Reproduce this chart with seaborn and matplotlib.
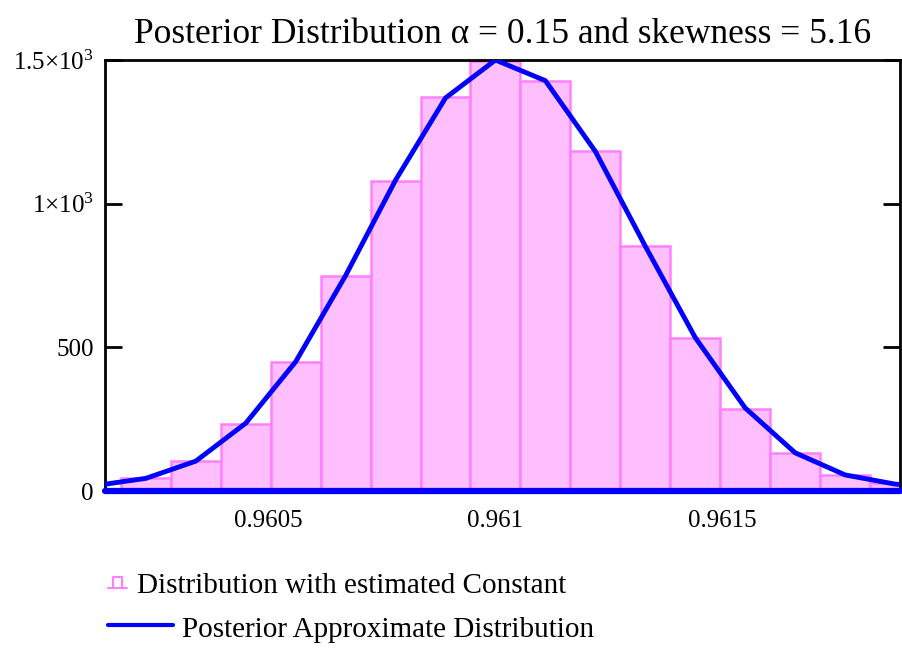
import matplotlib
matplotlib.use("Agg")
import matplotlib.pyplot as plt
from matplotlib.lines import Line2D
import seaborn as sns
import pandas as pd

# Histogram of sampled constant (bin centres and counts)
bin_width = 0.00011
bin_centers = [0.96023, 0.96034, 0.96045, 0.96056, 0.96067, 0.96078, 0.96089,
               0.96100, 0.96111, 0.96122, 0.96133, 0.96144, 0.96155, 0.96166,
               0.96177, 0.96188]
bin_counts = [44, 105, 232, 449, 748, 1079, 1372, 1497, 1428, 1183, 853, 532,
              287, 133, 56, 29]

# Approximate posterior curve evaluated at the same grid (extended one step each side)
curve_x = [0.96012, 0.96023, 0.96034, 0.96045, 0.96056, 0.96067, 0.96078,
           0.96089, 0.96100, 0.96111, 0.96122, 0.96133, 0.96144, 0.96155,
           0.96166, 0.96177, 0.96188, 0.96199]
curve_y = [19, 44, 104, 236, 450, 750, 1082, 1368, 1500, 1428, 1182, 852, 534,
           289, 133, 56, 24, 10]

x_ticks = [0.9605, 0.961, 0.9615]
x_tick_labels = ["0.9605", "0.961", "0.9615"]
y_ticks = [0, 500, 1000, 1500]
y_tick_labels = ["0", "500", r"1$\times$10$^3$", r"1.5$\times$10$^3$"]

title = "Posterior Distribution \u03b1 = 0.15 and skewness = 5.16"
label_hist = "Distribution with estimated Constant"
label_curve = "Posterior Approximate Distribution"

sns.set_theme(style="white")
plt.rcParams["font.family"] = ["Liberation Serif", "DejaVu Serif"]
plt.rcParams["mathtext.fontset"] = "custom"
plt.rcParams["mathtext.rm"] = "Liberation Serif"
plt.rcParams["mathtext.it"] = "Liberation Serif:italic"
plt.rcParams["text.color"] = "black"
plt.rcParams["xtick.color"] = "black"
plt.rcParams["ytick.color"] = "black"

W, H = 903, 648
fig = plt.figure(figsize=(W / 100, H / 100), dpi=100)
ax = fig.add_axes([105 / W, 1 - 491 / H, (900 - 105) / W, (491 - 60) / H])

pink_fill = (1.0, 0.75, 1.0)
pink_edge = (1.0, 0.5, 1.0)
blue = (0.0, 0.0, 1.0)

first_edge = bin_centers[0] - bin_width / 2
last_edge = bin_centers[-1] + bin_width / 2
hist_df = pd.DataFrame({"x": bin_centers, "w": bin_counts})
sns.histplot(data=hist_df, x="x", weights="w", bins=len(bin_centers),
             binrange=(first_edge, last_edge), ax=ax,
             color=pink_fill, edgecolor=pink_edge, linewidth=1.8, alpha=1.0,
             zorder=1)

curve_df = pd.DataFrame({"x": curve_x, "y": curve_y})
sns.lineplot(data=curve_df, x="x", y="y", ax=ax, color=blue, linewidth=3.5,
             zorder=3)

ax.axhline(0, color=blue, linewidth=4.5, zorder=4, clip_on=False)

ax.set_xlim(0.96014, 0.961891)
ax.set_ylim(0, 1500)
ax.set_xlabel("")
ax.set_ylabel("")
ax.set_xticks(x_ticks)
ax.set_xticklabels(x_tick_labels, fontsize=18)
ax.set_yticks(y_ticks)
ax.set_yticklabels(y_tick_labels, fontsize=18)
ax.tick_params(axis="x", length=0, pad=14)
ax.tick_params(axis="y", direction="in", length=12, width=2, pad=8,
               left=True, right=True, colors="black")
for name in ("left", "right", "top"):
    ax.spines[name].set_visible(True)
    ax.spines[name].set_color("black")
    ax.spines[name].set_linewidth(2)
ax.spines["bottom"].set_visible(False)
ax.grid(False)

ax.set_title(title, fontsize=25.5, pad=12, color="black")


def fx(px):
    return px / W


def fy(py):
    return 1 - py / H


# Legend below the plot: bar icon, then curve sample line
fig.add_artist(Line2D([fx(108), fx(127)], [fy(588), fy(588)], color=pink_edge,
                      linewidth=1.5, transform=fig.transFigure))
fig.add_artist(Line2D([fx(113), fx(113), fx(122), fx(122)],
                      [fy(588), fy(577), fy(577), fy(588)], color=pink_edge,
                      linewidth=1.5, transform=fig.transFigure))
fig.text(fx(137), fy(593), label_hist, fontsize=21, va="baseline", ha="left")
fig.add_artist(Line2D([fx(108), fx(173)], [fy(625), fy(625)],
                      color=blue, linewidth=3, transform=fig.transFigure))
fig.text(fx(182), fy(637), label_curve, fontsize=21, va="baseline", ha="left")

fig.savefig("out.png", dpi=100)
